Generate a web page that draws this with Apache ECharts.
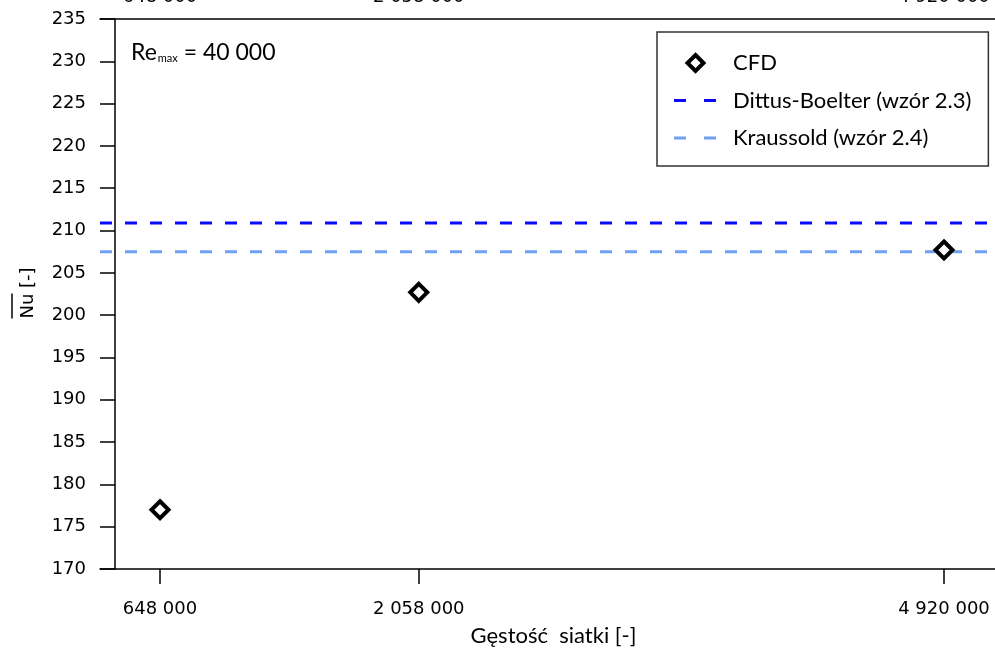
<!DOCTYPE html>
<html>
<head>
<meta charset="utf-8">
<script src="https://cdn.jsdelivr.net/npm/echarts@6/dist/echarts.min.js"></script>
<style>html,body{margin:0;padding:0;background:#fff}#c{width:995px;height:652px}</style>
</head>
<body>
<div id="c"></div>
<script>
// ---- data ----
const meshSizes = [648000, 2058000, 4920000];        // Gęstość siatki
const cfdNu = [177.0, 202.7, 207.7];                  // CFD
const dittusBoelterNu = 210.9;                         // wzór 2.3
const kraussoldNu = 207.5;                             // wzór 2.4
const yTicks = [170, 175, 180, 185, 190, 195, 200, 205, 210, 215, 220, 225, 230, 235];
const xRange = [321000, 5198000];

const fmt = v => String(v).replace(/\B(?=(\d{3})+(?!\d))/g, ' ');
const chart = echarts.init(document.getElementById('c'));
const labelFont = '"DejaVu Sans", sans-serif';
const textFont = 'Lato, sans-serif';
const diamondIcon = 'path://M0,8L0,8M43,8L43,8M21.5,0L29.5,8L21.5,16L13.5,8Z';

chart.setOption({
  animation: false,
  grid: { left: 100, right: 0, top: 19, bottom: 83, outerBoundsMode: 'none', containLabel: false },
  xAxis: [{
    type: 'value', position: 'bottom', min: xRange[0], max: xRange[1],
    splitLine: { show: false },
    axisLine: { lineStyle: { color: '#000', width: 1.5 } },
    axisTick: { show: true, length: 15, customValues: meshSizes, lineStyle: { color: '#000', width: 1.5 } },
    axisLabel: { customValues: meshSizes, formatter: fmt, margin: 31, color: '#000', fontSize: 18, fontFamily: labelFont },
    name: 'Gęstość  siatki [-]', nameLocation: 'middle', nameGap: 56,
    nameTextStyle: { color: '#000', fontSize: 22, fontFamily: textFont, padding: [0, 0, 0, 12] }
  }, {
    type: 'value', position: 'top', min: xRange[0], max: xRange[1],
    splitLine: { show: false },
    axisLine: { lineStyle: { color: '#000', width: 1.5 } },
    axisTick: { show: false },
    axisLabel: { customValues: meshSizes, formatter: fmt, margin: 13, color: '#000', fontSize: 18, fontFamily: labelFont }
  }],
  yAxis: {
    type: 'value', min: 170, max: 235, interval: 5, offset: -15,
    splitLine: { show: false },
    axisLine: { show: true, lineStyle: { color: '#000', width: 1.5 } },
    axisTick: { show: true, length: 15, customValues: yTicks, lineStyle: { color: '#000', width: 1.5 } },
    axisLabel: { customValues: yTicks, margin: 29, color: '#000', fontSize: 18, fontFamily: labelFont }
  },
  legend: {
    orient: 'vertical', left: 657, top: 32,
    backgroundColor: '#fff', borderColor: '#333', borderWidth: 1.5,
    padding: [20, 17, 17, 15], itemGap: 15.5, itemWidth: 43, itemHeight: 16,
    textStyle: { color: '#000', fontSize: 22, fontFamily: textFont, lineHeight: 22, padding: [0, 0, 0, 11] },
    data: [
      { name: 'CFD', icon: diamondIcon, itemStyle: { color: 'rgba(0,0,0,0)', borderColor: '#000', borderWidth: 4, opacity: 1 } },
      { name: 'Dittus-Boelter (wzór 2.3)', itemStyle: { opacity: 0 }, lineStyle: { type: [12, 18], width: 3 } },
      { name: 'Kraussold (wzór 2.4)', itemStyle: { opacity: 0 }, lineStyle: { type: [12, 18], width: 3 } }
    ]
  },
  graphic: [{
    type: 'group', x: 28, y: 293, rotation: Math.PI / 2,
    children: [
      { type: 'text', style: { text: 'Nu [-]', x: 0, y: 0, align: 'center', verticalAlign: 'middle', fill: '#000', font: '18px ' + labelFont } },
      { type: 'line', shape: { x1: -25.5, y1: -16, x2: -0.5, y2: -16 }, style: { stroke: '#000', lineWidth: 1.5 } }
    ]
  }, {
    type: 'text', left: 131, top: 41,
    style: {
      text: '{a|Re}{s|max}{a| = 40 000}',
      rich: {
        a: { fontSize: 23, fontFamily: textFont, fill: '#000', verticalAlign: 'bottom', lineHeight: 28 },
        s: { fontSize: 11, fontFamily: textFont, fill: '#000', verticalAlign: 'bottom', lineHeight: 8, padding: [0, 0, 0, 1] }
      }
    }
  }],
  series: [{
    name: 'Dittus-Boelter (wzór 2.3)', type: 'line', xAxisIndex: 0,
    data: [[xRange[0], dittusBoelterNu], [xRange[1], dittusBoelterNu]],
    showSymbol: false, symbol: 'none', z: 2,
    lineStyle: { color: '#0a0aff', width: 3, type: [12, 13] }, itemStyle: { color: '#0a0aff' }
  }, {
    name: 'Kraussold (wzór 2.4)', type: 'line', xAxisIndex: 0,
    data: [[xRange[0], kraussoldNu], [xRange[1], kraussoldNu]],
    showSymbol: false, symbol: 'none', z: 2,
    lineStyle: { color: '#6fa0f4', width: 3, type: [12, 13] }, itemStyle: { color: '#6fa0f4' }
  }, {
    name: 'CFD', type: 'scatter', xAxisIndex: 0, z: 5,
    data: meshSizes.map((x, i) => [x, cfdNu[i]]),
    symbol: 'diamond', symbolSize: 17,
    itemStyle: { color: 'rgba(0,0,0,0)', borderColor: '#000', borderWidth: 4, opacity: 1 }
  }]
});
</script>
</body>
</html>
